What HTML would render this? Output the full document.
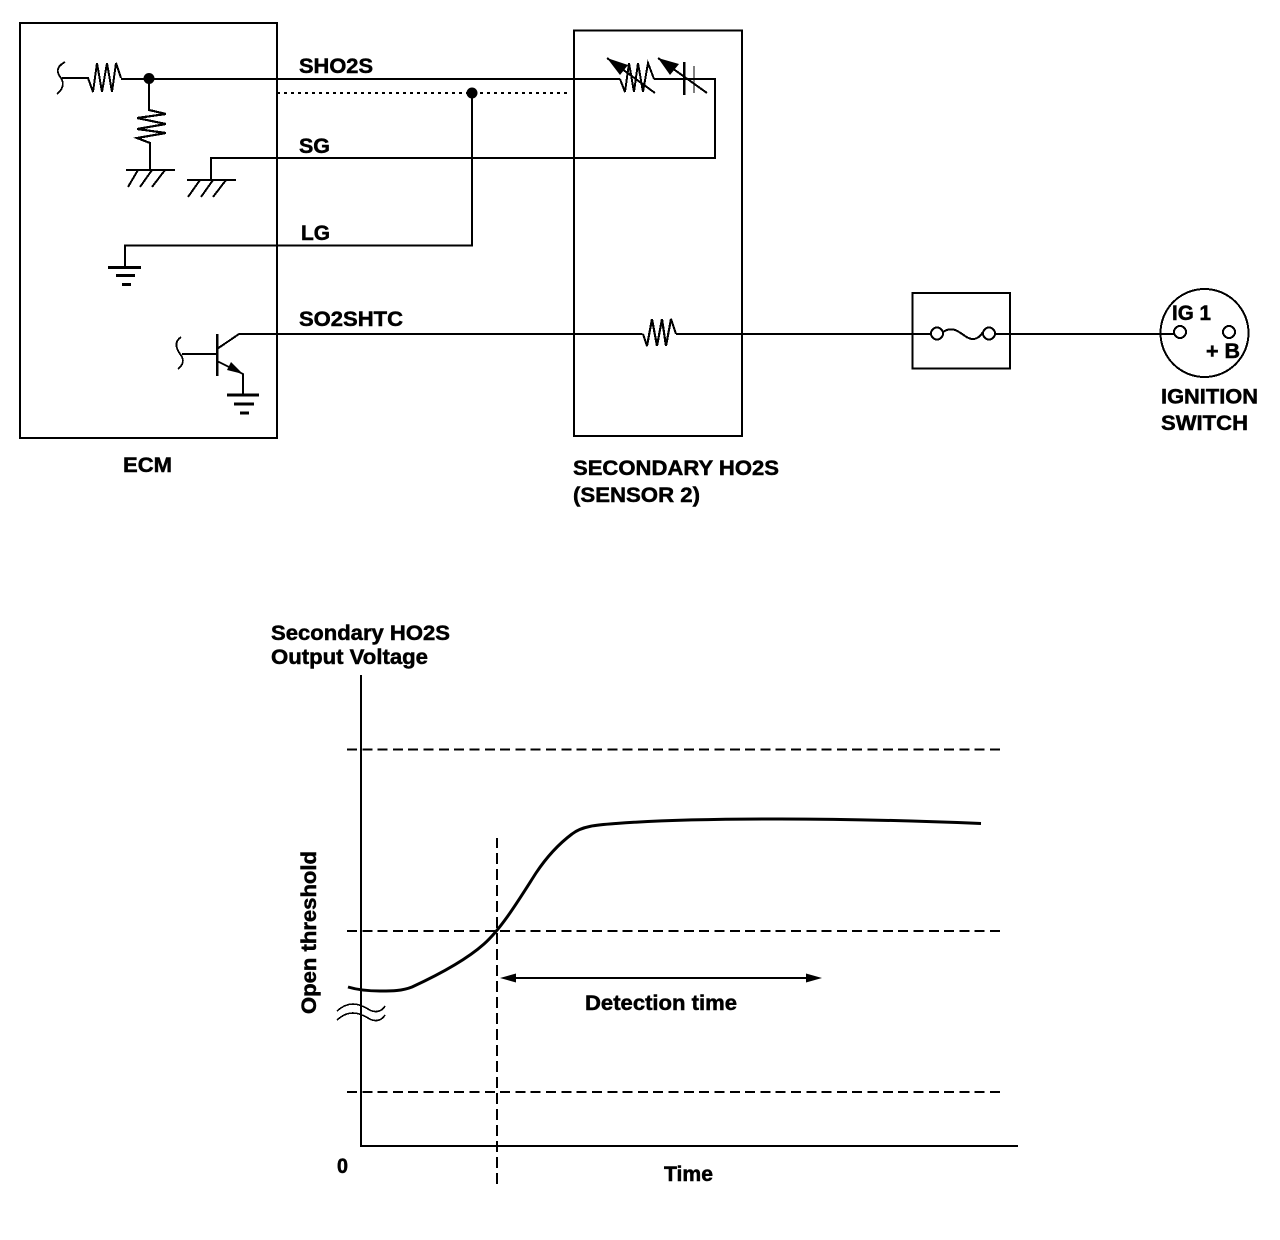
<!DOCTYPE html>
<html><head><meta charset="utf-8"><style>
html,body{margin:0;padding:0;background:#fff}
svg{display:block}
text{font-family:"Liberation Sans",sans-serif;font-weight:bold;font-size:21.5px;fill:#000;stroke:#000;stroke-width:.5px}
</style></head><body>
<svg xmlns="http://www.w3.org/2000/svg" width="1280" height="1240" viewBox="0 0 1280 1240">
<g fill="none" stroke="#000" stroke-width="2" shape-rendering="crispEdges">
<rect x="20" y="23" width="257" height="415"/>
<rect x="574" y="30.5" width="168" height="405.5"/>
<rect x="912.5" y="293" width="97.5" height="75.5"/>
<!-- SHO2S -->
<path d="M121 79H620M654 79H715V158H211V180"/>
<path d="M62 78H88L93 92L97 63L102 92L107 63L112 92L116 63L121 78" stroke-width="2"/>
<path d="M65 62C54 68 58 74 61 78C65 84 62 90 57 94" stroke-width="1.8"/>
<path d="M149 79V110L166 114L137 118L166 124L137 129L166 133L137 138L150 143V170" stroke-width="2.2"/>
<path d="M126 170H175M138 170L128 187M152 170L140 187M165 170L152 187M187 180H236M200 180L188 197M213 180L201 197M226 180L213 197"/>
<path d="M277 93H570" stroke-dasharray="3 4"/>
<path d="M472 93V245.5H125V267"/>
<path d="M108 267.5H141" stroke-width="3"/>
<path d="M116 275.5H135" stroke-width="3"/>
<path d="M122 284.5H131" stroke-width="3"/>
<!-- transistor -->
<path d="M217 334V376" stroke-width="2.5"/>
<path d="M182 354H217M217 349L239 334H642.5M676 334H931M995 334H1174M217 361L243 374V395"/>
<path d="M181 337C174 342 176 348 180 354C185 360 183 365 178 369" stroke-width="1.8"/>
<path d="M227 395H259" stroke-width="3"/>
<path d="M234 404H254" stroke-width="3"/>
<path d="M240 413H249" stroke-width="3"/>
<!-- sensor parts -->
<path d="M620 79L625 92L629 63L634 92L638 63L643 92L648 63L654 79" stroke-width="2"/>
<path d="M607 58L655 93M658 58L707 93" stroke-width="2"/>
<path d="M684 62V95" stroke-width="2.5"/>
<path d="M694 66V93" stroke-width="1.2"/>
<path d="M643 334L647 346L652 319L657 346L662 319L666 346L671 319L676 334" stroke-width="2.2"/>
<!-- fuse -->
<path d="M943 332C952 326 958 331 965 336C972 341 978 340 983 332"/>
<circle cx="937" cy="333.5" r="6"/>
<circle cx="989" cy="333.5" r="6"/>
<circle cx="1180" cy="332" r="6"/>
<circle cx="1229" cy="332" r="6"/>
<circle cx="1204.5" cy="333" r="44"/>
<!-- chart -->
<path d="M361 675V1146H1018"/>
<path d="M347 749.5H1000M347 931H1000M347 1092H1000" stroke-width="2" stroke-dasharray="10 5.31"/>
<path d="M497 1184V838" stroke-width="2" stroke-dasharray="11 5"/>
<path d="M510 978H810"/>
<path d="M337 1011C348 1001 358 1003 368 1009C376 1014 382 1011 385 1006M337 1020C348 1010 358 1012 368 1018C376 1023 382 1020 385 1015" stroke-width="1.6"/>
</g>
<path d="M348 987C358 990 368 991 380 991C392 991 402 991 412 987C438 975 466 960 484 944C502 928 520 898 536 873C548 855 560 843 572 834C582 826 596 825 616 823.5C660 820 720 819 780 819C850 819 920 821 981 823.5" fill="none" stroke="#000" stroke-width="3"/>
<circle cx="149" cy="78.5" r="5.5"/>
<circle cx="472" cy="93" r="5.5"/>
<path d="M607 58L628 65L620 75Z"/>
<path d="M658 58L679 64L670 75Z"/>
<path d="M243 374L227 370L231 362Z"/>
<path d="M500 978L516 973.5V982.5Z"/>
<path d="M822 978L806 973.5V982.5Z"/>
<text x="299" y="73" textLength="74" lengthAdjust="spacingAndGlyphs">SHO2S</text>
<text x="299" y="153" textLength="31" lengthAdjust="spacingAndGlyphs">SG</text>
<text x="301" y="240" textLength="29" lengthAdjust="spacingAndGlyphs">LG</text>
<text x="299" y="326" textLength="104" lengthAdjust="spacingAndGlyphs">SO2SHTC</text>
<text x="123" y="472" textLength="49" lengthAdjust="spacingAndGlyphs">ECM</text>
<text x="573" y="475" textLength="206" lengthAdjust="spacingAndGlyphs">SECONDARY HO2S</text>
<text x="573" y="502" textLength="127" lengthAdjust="spacingAndGlyphs">(SENSOR 2)</text>
<text x="1172" y="320" textLength="39" lengthAdjust="spacingAndGlyphs">IG 1</text>
<text x="1206" y="358" textLength="34" lengthAdjust="spacingAndGlyphs">+ B</text>
<text x="1161" y="403.5" textLength="97" lengthAdjust="spacingAndGlyphs">IGNITION</text>
<text x="1161" y="430" textLength="87" lengthAdjust="spacingAndGlyphs">SWITCH</text>
<text x="271" y="640" textLength="179" lengthAdjust="spacingAndGlyphs">Secondary HO2S</text>
<text x="271" y="664" textLength="157" lengthAdjust="spacingAndGlyphs">Output Voltage</text>
<text transform="translate(316 1014) rotate(-90)" textLength="163" lengthAdjust="spacingAndGlyphs">Open threshold</text>
<text x="585" y="1010" textLength="152" lengthAdjust="spacingAndGlyphs">Detection time</text>
<text x="664" y="1181" textLength="49" lengthAdjust="spacingAndGlyphs">Time</text>
<text x="337" y="1173" textLength="11" lengthAdjust="spacingAndGlyphs">0</text>
</svg>
</body></html>
